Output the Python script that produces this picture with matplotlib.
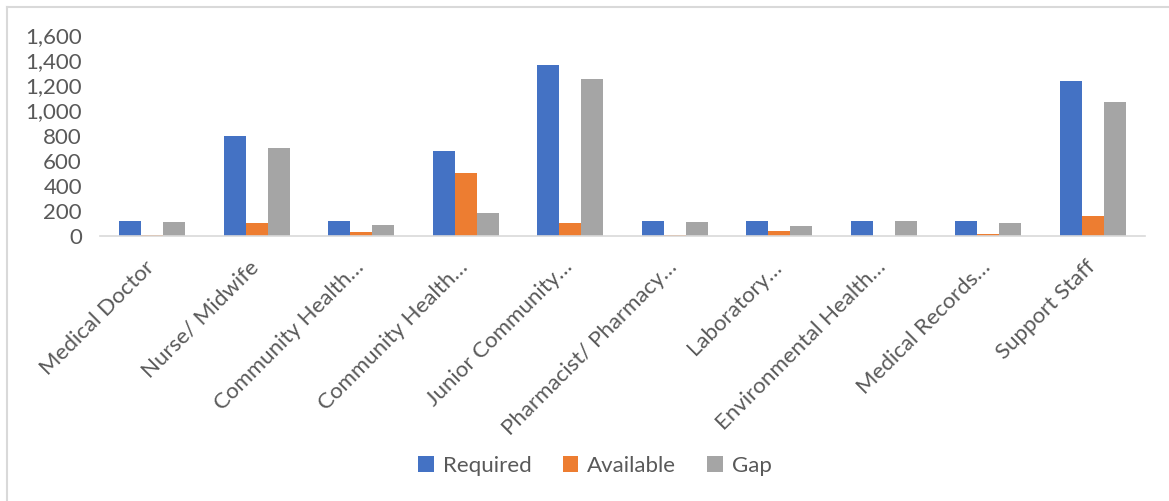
import matplotlib.pyplot as plt
import matplotlib.transforms as mtransforms
import numpy as np
from matplotlib.lines import Line2D

plt.rcParams['font.family'] = ['Lato', 'DejaVu Sans']

# data
categories = ['Medical Doctor', 'Nurse/ Midwife', 'Community Health…', 'Community Health…',
              'Junior Community…', 'Pharmacist/ Pharmacy…', 'Laboratory…',
              'Environmental Health…', 'Medical Records…', 'Support Staff']
required = [120, 800, 120, 680, 1360, 120, 120, 120, 120, 1230]
available = [8, 100, 30, 500, 100, 8, 40, 0, 15, 160]
gap = [112, 700, 90, 180, 1250, 112, 80, 120, 105, 1070]
series_names = ['Required', 'Available', 'Gap']
colors = ['#4472C4', '#ED7D31', '#A5A5A5']

fig = plt.figure(figsize=(11.69, 5.01), dpi=100)
ax = fig.add_axes([100 / 1169, 1 - 236 / 501, 1045 / 1169, 201 / 501])

x = np.arange(len(categories))
w = 0.21
for i, (vals, c) in enumerate(zip([required, available, gap], colors)):
    ax.bar(x + (i - 1) * w, vals, w, color=c, label=series_names[i])

ax.set_xlim(-0.5, len(categories) - 0.5)
ax.set_ylim(0, 1600)
ax.set_yticks(range(0, 1601, 200))
ax.set_yticklabels(['{:,}'.format(v) for v in range(0, 1601, 200)])
ax.set_xticks(x)
ax.set_xticklabels(categories, rotation=45, ha='right', rotation_mode='anchor')

for s in ['top', 'right', 'left']:
    ax.spines[s].set_visible(False)
ax.spines['bottom'].set_color('#D9D9D9')
ax.spines['bottom'].set_linewidth(1.2)
ax.tick_params(axis='both', length=0, labelsize=16, colors='#595959')
ax.tick_params(axis='y', pad=13)
ax.tick_params(axis='x', pad=15)

# shift category labels a little left, like the original
shift = mtransforms.ScaledTranslation(-8 / 100, 0, fig.dpi_scale_trans)
for lab in ax.get_xticklabels():
    lab.set_transform(lab.get_transform() + shift)

fig.legend(loc='center', bbox_to_anchor=(0.509, 1 - 466 / 501), ncol=3, frameon=False,
           fontsize=16, handlelength=0.7, handleheight=0.7, columnspacing=1.4,
           handletextpad=0.4, labelcolor='#595959')

# chart frame
fig.add_artist(Line2D([6.5 / 1169, 6.5 / 1169], [0, 1 - 7 / 501], transform=fig.transFigure,
                      color='#D9D9D9', lw=1.5))
fig.add_artist(Line2D([6.5 / 1169, 1], [1 - 7 / 501, 1 - 7 / 501], transform=fig.transFigure,
                      color='#D9D9D9', lw=1.5))

plt.savefig('out.png', dpi=100)
